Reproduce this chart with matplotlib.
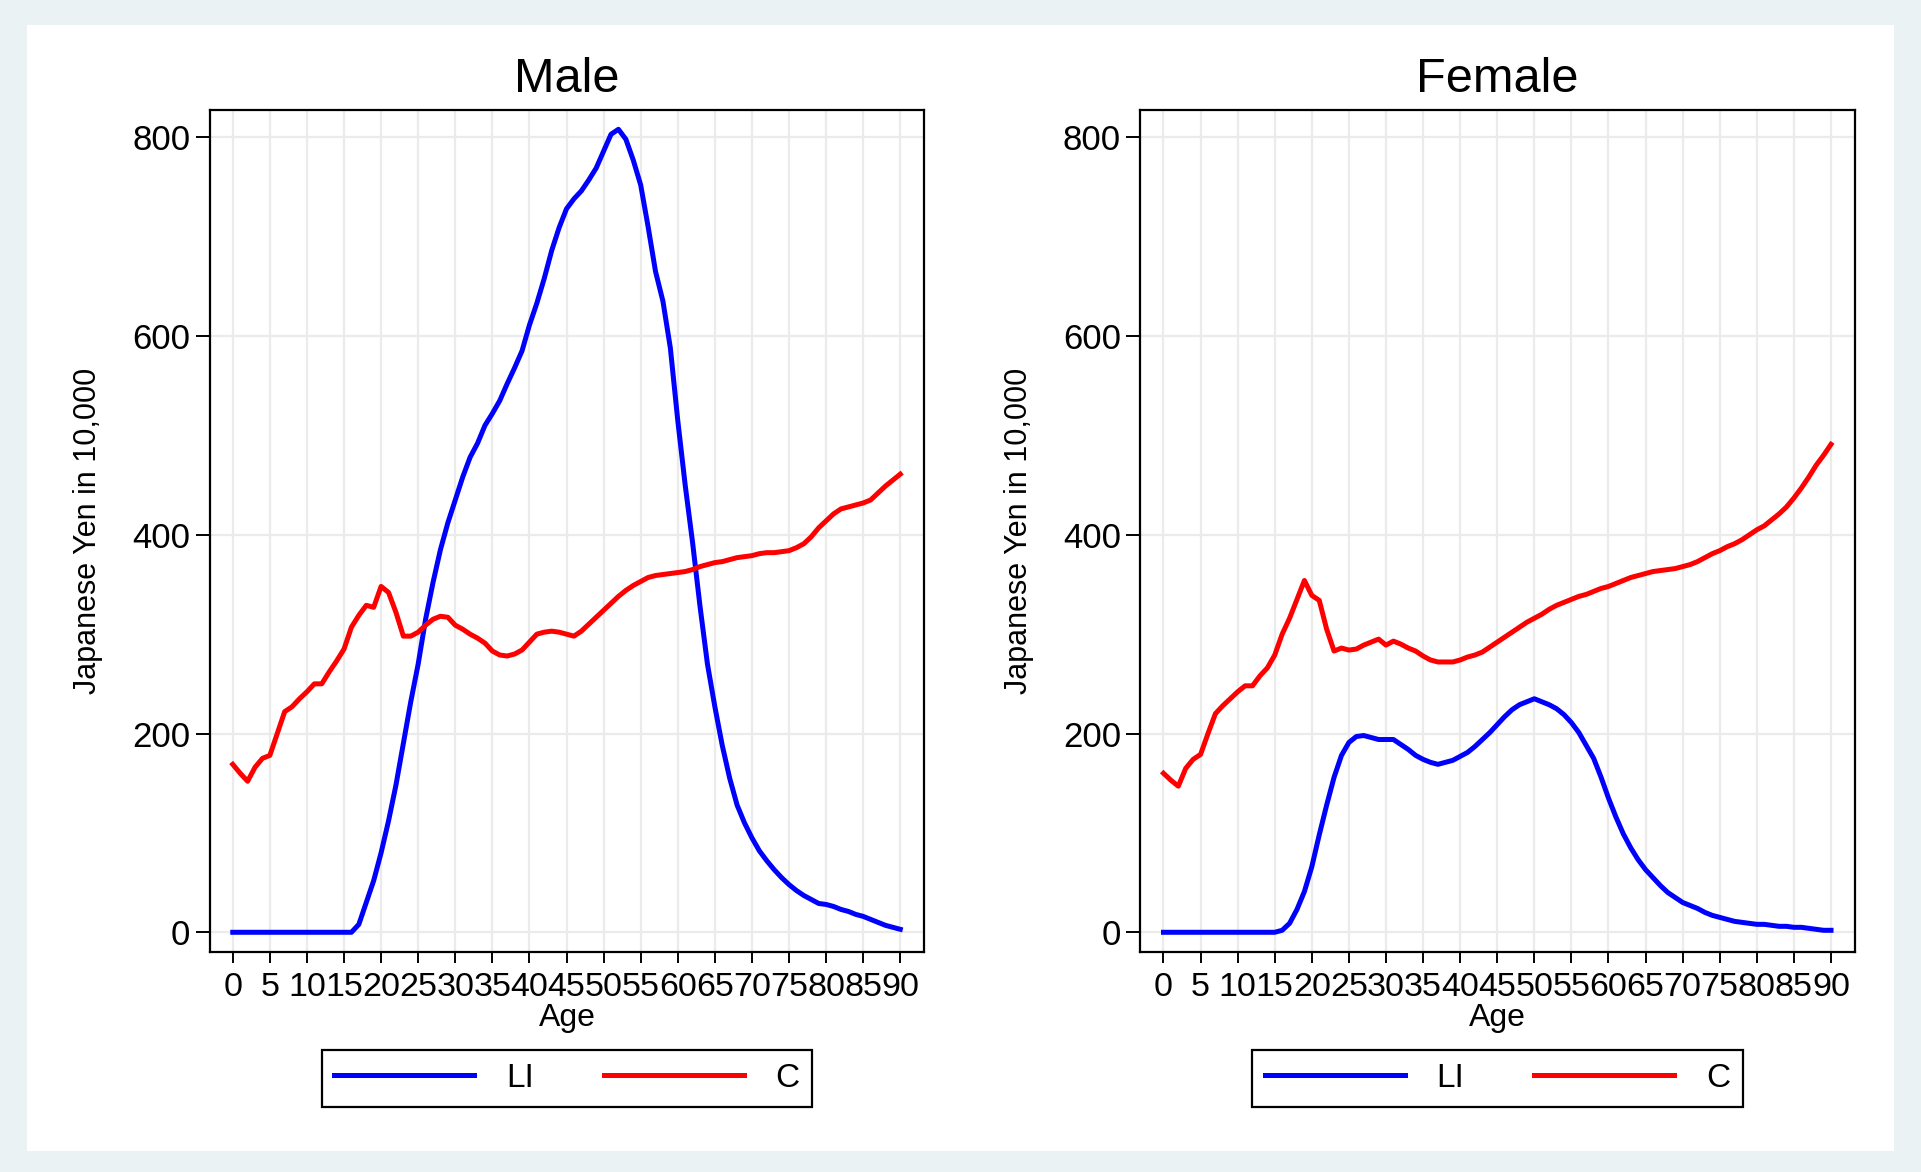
import matplotlib
matplotlib.use("Agg")
import matplotlib.pyplot as plt
from matplotlib.patches import Rectangle

plt.rcParams["font.family"] = ["Liberation Sans", "DejaVu Sans"]

# age profiles, Japanese yen in 10,000
ages = list(range(0, 91))

male_li = [0] * 16 + [
    0, 8, 30, 52, 80, 112, 148, 190, 232, 270,            # 16-25
    315, 352, 385, 412, 435, 458, 478, 492, 510, 522,      # 26-35
    535, 552, 568, 585, 611, 633, 658, 686, 709, 728,      # 36-45
    738, 746, 757, 769, 786, 803, 808, 798, 777, 752,      # 46-55
    710, 665, 635, 588, 515, 450, 392, 328, 270, 227,      # 56-65
    188, 155, 128, 110, 95, 82, 72, 63, 55, 48,            # 66-75
    42, 37, 33, 29, 28, 26, 23, 21, 18, 16,                # 76-85
    13, 10, 7, 5, 3]                                       # 86-90
male_c = [
    169, 160, 152, 166, 175, 178, 200, 222, 227, 235,
    242, 250, 250, 262, 273, 285, 307, 319, 329, 327,
    348, 342, 322, 298, 298, 302, 309, 315, 318, 317,
    309, 305, 300, 296, 291, 283, 279, 278, 280, 284,
    292, 300, 302, 303, 302, 300, 298, 303, 310, 317,
    324, 331, 338, 344, 349, 353, 357, 359, 360, 361,
    362, 363, 365, 368, 370, 372, 373, 375, 377, 378,
    379, 381, 382, 382, 383, 384, 387, 391, 398, 407,
    414, 421, 426, 428, 430, 432, 435, 442, 449, 455, 461]

female_li = [0] * 16 + [
    2, 9, 23, 41, 66, 98, 128, 156, 178, 191,              # 16-25
    197, 198, 196, 194, 194, 194, 189, 184, 178, 174,      # 26-35
    171, 169, 171, 173, 177, 181, 187, 194, 201, 209,      # 36-45
    217, 224, 229, 232, 235, 232, 229, 225, 219, 211,      # 46-55
    201, 188, 175, 156, 135, 116, 99, 85, 73, 63,          # 56-65
    55, 47, 40, 35, 30, 27, 24, 20, 17, 15,                # 66-75
    13, 11, 10, 9, 8, 8, 7, 6, 6, 5,                       # 76-85
    5, 4, 3, 2, 2]                                         # 86-90
female_c = [
    160, 153, 147, 165, 174, 179, 200, 220, 228, 235,
    242, 248, 248, 258, 266, 279, 300, 316, 335, 354,
    339, 334, 305, 283, 286, 284, 285, 289, 292, 295,
    289, 293, 290, 286, 283, 278, 274, 272, 272, 272,
    274, 277, 279, 282, 287, 292, 297, 302, 307, 312,
    316, 320, 325, 329, 332, 335, 338, 340, 343, 346,
    348, 351, 354, 357, 359, 361, 363, 364, 365, 366,
    368, 370, 373, 377, 381, 384, 388, 391, 395, 400,
    405, 409, 415, 421, 428, 437, 447, 458, 470, 480, 491]

panels = [("Male", male_li, male_c), ("Female", female_li, female_c)]
xticks = list(range(0, 91, 5))
yticks = [0, 200, 400, 600, 800]

fig = plt.figure(figsize=(19.21, 11.72), dpi=100, facecolor="#EAF2F3")
fig.patches.append(Rectangle((0.0141, 0.0175), 0.9719, 0.9612, transform=fig.transFigure,
                             facecolor="white", edgecolor="none", zorder=-5))

lefts = [0.1092, 0.5937]
for left, (title, li, c) in zip(lefts, panels):
    ax = fig.add_axes([left, 0.1880, 0.3718, 0.7182])
    ax.plot(ages, li, color="#0000FF", lw=3.6, label="LI", solid_joinstyle="round", zorder=3)
    ax.plot(ages, c, color="#FF0000", lw=3.6, label="C", solid_joinstyle="round", zorder=3)

    ax.set_xlim(-3.1, 93.2)
    ax.set_ylim(-19.5, 827.5)
    ax.set_xticks(xticks)
    ax.set_yticks(yticks)
    ax.grid(True, color="#EBEBEB", lw=1.6, zorder=0)
    for s in ax.spines.values():
        s.set_linewidth(1.6)
    ax.tick_params(axis="x", length=8, width=1.4, pad=7, labelsize=24.5)
    ax.tick_params(axis="y", length=10, width=1.4, pad=4, labelsize=25)

    ax.set_title(title, fontsize=35, y=1.0357, pad=0, va="center")
    ax.set_xlabel("Age", fontsize=23)
    ax.xaxis.set_label_coords(0.5, -0.0790)
    ax.xaxis.label.set_va("center")
    ax.set_ylabel("Japanese Yen in 10,000", fontsize=22)
    ax.yaxis.set_label_coords(-0.170, 0.5)
    ax.yaxis.label.set_va("center")

    leg = ax.legend(loc="center", bbox_to_anchor=(0.5, -0.1506), ncol=2, fontsize=24,
                    frameon=True, fancybox=False, framealpha=1, edgecolor="black",
                    handlelength=4.2, handletextpad=0.95, columnspacing=2.1,
                    borderpad=0.38)
    leg.get_frame().set_linewidth(1.6)

plt.savefig("out.png", dpi=100, facecolor=fig.get_facecolor())
